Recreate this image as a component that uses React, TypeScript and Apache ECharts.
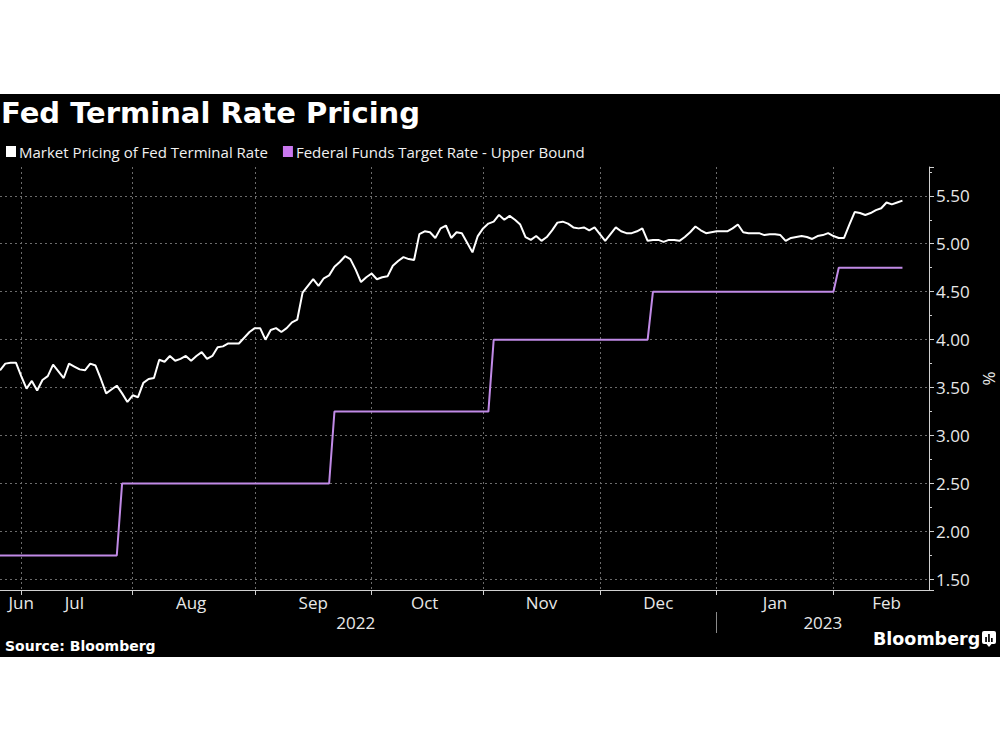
import React, { useEffect, useRef } from 'react';
import * as echarts from 'echarts';

// ---------- data ----------
const firstDate = '2022-06-27';
const lastAxisDate = '2023-02-27';

// Market pricing of Fed terminal rate (%), one value per weekday from 2022-06-27
const terminalRate = [
  3.68, 3.75, 3.76, 3.76, 3.62, 3.49, 3.57, 3.47, 3.58, 3.62,
  3.74, 3.67, 3.60, 3.75, 3.72, 3.69, 3.68, 3.75, 3.73, 3.59,
  3.44, 3.48, 3.52, 3.44, 3.35, 3.42, 3.40, 3.55, 3.59, 3.60,
  3.79, 3.77, 3.83, 3.78, 3.80, 3.83, 3.78, 3.83, 3.87, 3.80,
  3.83, 3.92, 3.93, 3.96, 3.96, 3.96, 4.02, 4.08, 4.12, 4.12,
  4.00, 4.10, 4.12, 4.08, 4.12, 4.18, 4.21, 4.49, 4.56, 4.63,
  4.56, 4.64, 4.67, 4.76, 4.81, 4.87, 4.84, 4.73, 4.60, 4.65,
  4.69, 4.63, 4.65, 4.66, 4.77, 4.82, 4.86, 4.84, 4.83, 5.10,
  5.13, 5.12, 5.06, 5.16, 5.19, 5.06, 5.12, 5.11, 5.01, 4.91,
  5.08, 5.16, 5.21, 5.23, 5.30, 5.25, 5.29, 5.25, 5.20, 5.07,
  5.04, 5.08, 5.03, 5.07, 5.14, 5.22, 5.23, 5.21, 5.17, 5.16,
  5.17, 5.14, 5.17, 5.10, 5.03, 5.10, 5.17, 5.13, 5.11, 5.11,
  5.13, 5.16, 5.03, 5.04, 5.04, 5.02, 5.04, 5.04, 5.03, 5.07,
  5.12, 5.18, 5.14, 5.11, 5.12, 5.13, 5.13, 5.13, 5.16, 5.20,
  5.12, 5.11, 5.11, 5.11, 5.09, 5.10, 5.10, 5.09, 5.03, 5.06,
  5.07, 5.08, 5.07, 5.05, 5.08, 5.09, 5.11, 5.08, 5.06, 5.06,
  5.20, 5.33, 5.32, 5.30, 5.32, 5.35, 5.37, 5.43, 5.41, 5.43,
  5.45,
];

// Federal funds target rate - upper bound (%): effective dates and levels
const fedFundsDates = ['2022-06-27', '2022-07-28', '2022-09-22', '2022-11-03', '2022-12-15', '2023-02-02'];
const fedFundsLevels = [1.75, 2.5, 3.25, 4.0, 4.5, 4.75];

// month boundaries (first weekday of each month) -> ticks & vertical grid
const monthStartDates = ['2022-07-01', '2022-08-01', '2022-09-01', '2022-10-03', '2022-11-01', '2022-12-01', '2023-01-02', '2023-02-01'];
// month labels and the weekday they are centred on
const monthLabels = ['Jun', 'Jul', 'Aug', 'Sep', 'Oct', 'Nov', 'Dec', 'Jan', 'Feb'];
const monthLabelDates = ['2022-07-01', '2022-07-15', '2022-08-16', '2022-09-16', '2022-10-17', '2022-11-16', '2022-12-16', '2023-01-17', '2023-02-15'];
const yearLabels = ['2022', '2023'];
const yearLabelDates = ['2022-09-28', '2023-01-30'];
const yearSeparatorDate = '2023-01-02';

const seriesNames = ['Market Pricing of Fed Terminal Rate', 'Federal Funds Target Rate - Upper Bound'];

// ---------- helpers ----------
function weekdays(from: string, to: string): string[] {
  const out: string[] = [];
  const d = new Date(from + 'T00:00:00Z');
  const end = new Date(to + 'T00:00:00Z');
  while (d <= end) {
    const wd = d.getUTCDay();
    if (wd !== 0 && wd !== 6) out.push(d.toISOString().slice(0, 10));
    d.setUTCDate(d.getUTCDate() + 1);
  }
  return out;
}

const categories = weekdays(firstDate, lastAxisDate);
const fedFunds = terminalRate.map((_, i) => {
  const day = categories[i];
  let level = fedFundsLevels[0];
  fedFundsDates.forEach((d, k) => {
    if (day >= d) level = fedFundsLevels[k];
  });
  return level;
});

const tickIdx = new Set(monthStartDates.map((d) => categories.indexOf(d)));
const monthLabelMap = new Map<number, string>();
monthLabelDates.forEach((d, k) => monthLabelMap.set(categories.indexOf(d), monthLabels[k]));
const yearLabelMap = new Map<number, string>();
yearLabelDates.forEach((d, k) => yearLabelMap.set(categories.indexOf(d), yearLabels[k]));
const yearSepIdx = categories.indexOf(yearSeparatorDate);

const FONT = '"Open Sans", "Noto Sans", sans-serif';
const BOLD_FONT = '"DejaVu Sans", sans-serif';
const GRID_COLOR = '#6b6b6b';
const AXIS_COLOR = '#d0d0d0';
const LABEL_COLOR = '#e8e8e8';
const WHITE_LINE = '#ffffff';
const PURPLE_LINE = '#c08ae6';
const PURPLE_LEGEND = '#c978ef';

export default function App() {
  const ref = useRef<HTMLDivElement>(null);

  useEffect(() => {
    if (!ref.current) return;
    const chart = echarts.init(ref.current, undefined, { renderer: 'svg' });
    const option: any = {
      animation: false,
      backgroundColor: '#000',
      textStyle: { fontFamily: FONT },
      title: {
        text: 'Fed Terminal Rate Pricing',
        left: 1,
        top: 98,
        padding: 0,
        textStyle: { color: '#fff', fontSize: 29, fontWeight: 'bold', fontFamily: BOLD_FONT },
      },
      legend: {
        left: 6,
        top: 144,
        padding: 0,
        icon: 'rect',
        itemWidth: 10,
        itemHeight: 11,
        itemGap: 15,
        textStyle: { color: '#f0f0f0', fontSize: 15, fontFamily: FONT, padding: [0, 0, 0, -2] },
        data: [
          { name: seriesNames[0], itemStyle: { color: WHITE_LINE } },
          { name: seriesNames[1], itemStyle: { color: PURPLE_LEGEND } },
        ],
      },
      grid: { left: 0, right: 71, top: 167, bottom: 160, containLabel: false, outerBoundsMode: 'none' },
      xAxis: [
        {
          type: 'category',
          data: categories,
          boundaryGap: false,
          position: 'bottom',
          axisLine: { onZero: false, lineStyle: { color: AXIS_COLOR, width: 1 } },
          axisTick: {
            show: true,
            interval: (i: number) => tickIdx.has(i),
            length: 5,
            lineStyle: { color: AXIS_COLOR },
          },
          splitLine: {
            show: true,
            interval: (i: number) => tickIdx.has(i),
            lineStyle: { color: GRID_COLOR, type: [2, 3], width: 1 },
          },
          axisLabel: {
            interval: (i: number) => monthLabelMap.has(i),
            formatter: (_v: string, i: number) => monthLabelMap.get(i) ?? '',
            color: LABEL_COLOR,
            fontSize: 17,
            margin: 4,
            fontFamily: FONT,
          },
        },
        {
          type: 'category',
          data: categories,
          boundaryGap: false,
          position: 'bottom',
          offset: 22,
          axisLine: { show: false, onZero: false },
          axisTick: {
            show: true,
            interval: (i: number) => i === yearSepIdx,
            length: 21,
            lineStyle: { color: '#8a8a8a', width: 1 },
          },
          splitLine: { show: false },
          axisLabel: {
            interval: (i: number) => yearLabelMap.has(i),
            formatter: (_v: string, i: number) => yearLabelMap.get(i) ?? '',
            color: LABEL_COLOR,
            fontSize: 17,
            margin: 2,
            fontFamily: FONT,
          },
        },
      ],
      yAxis: {
        type: 'value',
        position: 'right',
        min: 1.39,
        max: 5.8,
        minInterval: 0.5,
        maxInterval: 0.5,
        splitNumber: 8,
        axisLine: { show: true, lineStyle: { color: AXIS_COLOR, width: 1 } },
        axisTick: { show: true, length: 5, lineStyle: { color: AXIS_COLOR } },
        minorTick: { show: true, splitNumber: 2, length: 3, lineStyle: { color: AXIS_COLOR } },
        splitLine: {
          show: true,
          showMaxLine: false,
          lineStyle: { color: GRID_COLOR, type: [2, 3], width: 1 },
        },
        axisLabel: {
          color: LABEL_COLOR,
          fontSize: 17,
          margin: 7,
          showMinLabel: false,
          showMaxLabel: false,
          fontFamily: FONT,
          formatter: (v: number) => v.toFixed(2),
        },
        name: '%',
        nameLocation: 'middle',
        nameGap: 50,
        nameRotate: -90,
        nameTextStyle: { color: LABEL_COLOR, fontSize: 17, fontFamily: FONT },
      },
      series: [
        {
          name: seriesNames[0],
          type: 'line',
          data: terminalRate,
          xAxisIndex: 0,
          showSymbol: false,
          symbol: 'none',
          lineStyle: { color: WHITE_LINE, width: 2 },
          itemStyle: { color: WHITE_LINE },
          z: 3,
        },
        {
          name: seriesNames[1],
          type: 'line',
          data: fedFunds,
          xAxisIndex: 0,
          showSymbol: false,
          symbol: 'none',
          lineStyle: { color: PURPLE_LINE, width: 2 },
          itemStyle: { color: PURPLE_LINE },
          z: 2,
        },
      ],
      graphic: [
        { type: 'rect', left: 0, top: 0, shape: { x: 0, y: 0, width: 1000, height: 94 }, style: { fill: '#fff' }, silent: true },
        { type: 'rect', left: 0, top: 657, shape: { x: 0, y: 0, width: 1000, height: 93 }, style: { fill: '#fff' }, silent: true },
        {
          type: 'text',
          x: 5,
          y: 646,
          style: {
            text: 'Source: Bloomberg',
            fill: '#fff',
            fontSize: 14,
            fontWeight: 'bold',
            fontFamily: BOLD_FONT,
            align: 'left',
            verticalAlign: 'middle',
          },
        },
        {
          type: 'text',
          x: 873,
          y: 639,
          style: {
            text: 'Bloomberg',
            fill: '#fff',
            fontSize: 17.5,
            fontWeight: 'bold',
            fontFamily: BOLD_FONT,
            align: 'left',
            verticalAlign: 'middle',
          },
        },
        {
          type: 'group',
          x: 982,
          y: 631,
          children: [
            { type: 'rect', shape: { x: 0, y: 0, width: 14, height: 13, r: 2 }, style: { fill: '#fff' } },
            { type: 'polygon', shape: { points: [[4.5, 13], [9.5, 13], [7, 16]] }, style: { fill: '#fff' } },
            { type: 'rect', shape: { x: 3.2, y: 6, width: 1.7, height: 5 }, style: { fill: '#000' } },
            { type: 'rect', shape: { x: 6.1, y: 3, width: 1.7, height: 8 }, style: { fill: '#000' } },
            { type: 'rect', shape: { x: 9, y: 7, width: 1.7, height: 4 }, style: { fill: '#000' } },
          ],
        },
      ],
    };
    chart.setOption(option);
    return () => chart.dispose();
  }, []);

  return (
    <div
      ref={ref}
      style={{ position: 'fixed', left: 0, top: 0, width: 1000, height: 750, background: '#fff' }}
    />
  );
}
